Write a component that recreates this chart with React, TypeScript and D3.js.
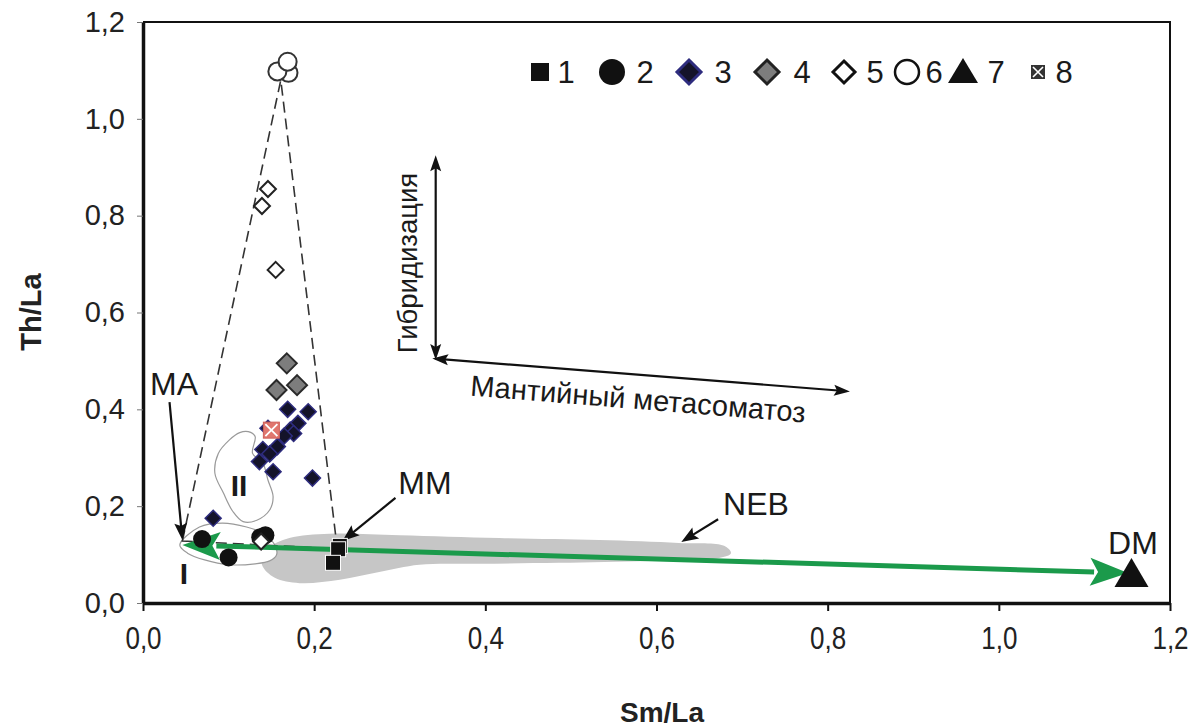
import React, { useEffect, useRef } from 'react'
import * as d3 from 'd3'

// axis ticks
const xTicks = [0, 0.2, 0.4, 0.6, 0.8, 1.0, 1.2]
const yTicks = [0, 0.2, 0.4, 0.6, 0.8, 1.0, 1.2]

// data series [Sm/La, Th/La]
const series1: [number, number][] = [[0.230, 0.118], [0.228, 0.111], [0.222, 0.083]]
const series2: [number, number][] = [[0.069, 0.132], [0.100, 0.094], [0.137, 0.136], [0.143, 0.140]]
const series3: [number, number][] = [
  [0.169, 0.400], [0.193, 0.395], [0.181, 0.371], [0.172, 0.357], [0.176, 0.350],
  [0.165, 0.345], [0.146, 0.361], [0.157, 0.323], [0.140, 0.317], [0.148, 0.308],
  [0.136, 0.292], [0.152, 0.271], [0.198, 0.258], [0.082, 0.175],
]
const series4: [number, number][] = [[0.168, 0.495], [0.156, 0.440], [0.180, 0.450]]
const series5: [number, number][] = [[0.146, 0.855], [0.139, 0.820], [0.155, 0.688], [0.138, 0.127]]
const series6: [number, number][] = [[0.170, 1.095], [0.157, 1.098], [0.169, 1.118]]
const series7: [number, number][] = [[1.155, 0.058]]
const series8: [number, number][] = [[0.150, 0.357]]
const legendLabels = ['1', '2', '3', '4', '5', '6', '7', '8']

// outlined fields
const nebField: [number, number][] = [
  [0.146, 0.114], [0.171, 0.134], [0.218, 0.143], [0.300, 0.140], [0.416, 0.134],
  [0.533, 0.130], [0.626, 0.124], [0.679, 0.118], [0.687, 0.103], [0.673, 0.093],
  [0.591, 0.087], [0.486, 0.083], [0.393, 0.081], [0.323, 0.079], [0.276, 0.064],
  [0.230, 0.048], [0.183, 0.041], [0.154, 0.052], [0.139, 0.079], [0.142, 0.105],
]
const fieldI: [number, number][] = [
  [0.043, 0.120], [0.066, 0.157], [0.093, 0.165], [0.121, 0.157], [0.139, 0.145],
  [0.154, 0.120], [0.156, 0.099], [0.148, 0.087], [0.131, 0.081], [0.101, 0.079],
  [0.072, 0.089], [0.052, 0.103],
]
const fieldII: [number, number][] = [
  [0.123, 0.354], [0.131, 0.344], [0.128, 0.309], [0.140, 0.289], [0.146, 0.254],
  [0.152, 0.220], [0.148, 0.192], [0.133, 0.171], [0.117, 0.168], [0.105, 0.189],
  [0.094, 0.227], [0.084, 0.268], [0.088, 0.309], [0.101, 0.337], [0.113, 0.352],
]
// mixing triangle MA - apex - MM
const mixTriangle: [number, number][] = [[0.046, 0.128], [0.161, 1.080], [0.227, 0.112]]
// green MA <-> DM trend
const trendLine: [number, number][] = [[0.046, 0.120], [1.151, 0.062]]
// pointer arrows [from, to]
const pointers: [number, number][][] = [
  [[0.031, 0.415], [0.046, 0.130]],
  [[0.295, 0.217], [0.233, 0.128]],
  [[0.672, 0.173], [0.629, 0.126]],
]
const hybridArrow: [number, number][] = [[0.342, 0.925], [0.342, 0.502]]
const metasomArrow: [number, number][] = [[0.338, 0.505], [0.826, 0.437]]

const W = 1204
const H = 727
const FONT = 'Liberation Sans, Arial, sans-serif'

const App = () => {
  const ref = useRef<SVGSVGElement>(null)

  useEffect(() => {
    document.body.style.margin = '0'
    const svg = d3.select(ref.current)
    svg.selectAll('*').remove()

    const x = d3.scaleLinear().domain([0, 1.2]).range([143, 1170])
    const y = d3.scaleLinear().domain([0, 1.2]).range([603, 22])
    const fmt = (d: number) => d3.format('.1f')(d).replace('.', ',')

    svg.append('rect').attr('width', W).attr('height', H).attr('fill', '#fff')

    const px = (d: [number, number]) => [x(d[0]), y(d[1])] as [number, number]

    // NEB field
    svg.append('path')
      .attr('d', d3.line().curve(d3.curveCatmullRomClosed)(nebField.map(px)))
      .attr('fill', '#c6c6c6')

    // fields I and II
    svg.append('path')
      .attr('d', d3.line().curve(d3.curveCatmullRomClosed)(fieldI.map(px)))
      .attr('fill', '#fff').attr('stroke', '#9a9a9a').attr('stroke-width', 1.2)
    svg.append('path')
      .attr('d', d3.line().curve(d3.curveCatmullRomClosed)(fieldII.map(px)))
      .attr('fill', 'none').attr('stroke', '#9a9a9a').attr('stroke-width', 1.2)

    // dashed triangle
    svg.append('path')
      .attr('d', d3.line()(mixTriangle.map(px)) + 'Z')
      .attr('fill', 'none').attr('stroke', '#333').attr('stroke-width', 1.6)
      .attr('stroke-dasharray', '11,6')

    const head = (tip: [number, number], from: [number, number], len: number, hw: number, notch = 0) => {
      const dx = tip[0] - from[0], dy = tip[1] - from[1]
      const L = Math.hypot(dx, dy)
      const ux = dx / L, uy = dy / L
      const bx = tip[0] - ux * len, by = tip[1] - uy * len
      const nx = tip[0] - ux * (len - notch), ny = tip[1] - uy * (len - notch)
      return `M${tip[0]},${tip[1]}L${bx - uy * hw},${by + ux * hw}L${nx},${ny}L${bx + uy * hw},${by - ux * hw}Z`
    }
    const arrow = (pts: [number, number][], color: string, w: number, len: number, hw: number, both: boolean, notch = 0) => {
      const a = px(pts[0]), b = px(pts[1])
      const g = svg.append('g')
      const L = Math.hypot(b[0] - a[0], b[1] - a[1])
      const ux = (b[0] - a[0]) / L, uy = (b[1] - a[1]) / L
      const s = both ? [a[0] + ux * (len - 4), a[1] + uy * (len - 4)] : a
      const e = [b[0] - ux * (len - 4), b[1] - uy * (len - 4)]
      g.append('line').attr('x1', s[0]).attr('y1', s[1]).attr('x2', e[0]).attr('y2', e[1])
        .attr('stroke', color).attr('stroke-width', w)
      g.append('path').attr('d', head(b, a, len, hw, notch)).attr('fill', color)
      if (both) g.append('path').attr('d', head(a, b, len, hw, notch)).attr('fill', color)
    }

    // green trend arrow
    arrow(trendLine, '#1b9a4b', 5, 38, 14, true, 8)

    // pointer arrows
    pointers.forEach(p => arrow(p, '#111', 2.2, 17, 6.5, false, 3))
    arrow(hybridArrow, '#111', 2.2, 16, 5.5, true, 3)
    arrow(metasomArrow, '#111', 2.2, 16, 5.5, true, 3)

    const diamond = (r: number) => `M0,${-r}L${r},0L0,${r}L${-r},0Z`
    const tr = (d: [number, number]) => `translate(${x(d[0])},${y(d[1])})`

    // series 1 squares
    svg.append('g').selectAll('rect').data(series1).join('rect')
      .attr('x', d => x(d[0]) - 7.5).attr('y', d => y(d[1]) - 7.5)
      .attr('width', 15).attr('height', 15)
      .attr('fill', '#111').attr('stroke', '#fff').attr('stroke-width', 1)
    // series 2 circles
    svg.append('g').selectAll('circle').data(series2).join('circle')
      .attr('cx', d => x(d[0])).attr('cy', d => y(d[1])).attr('r', 9)
      .attr('fill', '#111')
    // series 5 open diamonds
    svg.append('g').selectAll('path').data(series5).join('path')
      .attr('transform', tr).attr('d', diamond(8))
      .attr('fill', '#fff').attr('stroke', '#222').attr('stroke-width', 2)
    // series 3 dark diamonds
    svg.append('g').selectAll('path').data(series3).join('path')
      .attr('transform', tr).attr('d', diamond(8))
      .attr('fill', '#14132a').attr('stroke', '#2e2c7e').attr('stroke-width', 1.5)
    // series 4 gray diamonds
    svg.append('g').selectAll('path').data(series4).join('path')
      .attr('transform', tr).attr('d', diamond(10))
      .attr('fill', '#7d7d7d').attr('stroke', '#2a2a2a').attr('stroke-width', 2)
    // series 6 open circles
    svg.append('g').selectAll('circle').data(series6).join('circle')
      .attr('cx', d => x(d[0])).attr('cy', d => y(d[1])).attr('r', 9)
      .attr('fill', '#fff').attr('stroke', '#333').attr('stroke-width', 2)
    // series 7 triangle
    svg.append('g').selectAll('path').data(series7).join('path')
      .attr('transform', tr).attr('d', 'M0,-17L17,12L-17,12Z').attr('fill', '#111')
    // series 8 crossed square
    const s8 = svg.append('g').selectAll('g').data(series8).join('g').attr('transform', tr)
    s8.append('rect').attr('x', -8).attr('y', -8).attr('width', 16).attr('height', 16)
      .attr('fill', '#e0766e').attr('stroke', '#d0605a')
    s8.append('path').attr('d', 'M-6,-6L6,6M6,-6L-6,6').attr('stroke', '#fff').attr('stroke-width', 1.8)

    // axes
    const xAxis = svg.append('g').attr('transform', 'translate(0,603)')
      .call(d3.axisBottom(x).tickValues(xTicks).tickSize(8).tickSizeOuter(0).tickPadding(16).tickFormat(fmt as any))
    xAxis.attr('font-size', null).attr('font-family', null)
    xAxis.select('.domain').attr('stroke', '#111').attr('stroke-width', 3.5)
    xAxis.selectAll('.tick line').attr('stroke', '#111').attr('stroke-width', 2)
    // labels in the original are set in a narrow face
    xAxis.selectAll('.tick text').style('font-family', FONT)
      .style('font-size', '31px').attr('fill', '#222').attr('transform', 'scale(0.84,1)')
    const yAxis = svg.append('g').attr('transform', 'translate(143,0)')
      .call(d3.axisLeft(y).tickValues(yTicks).tickSize(6).tickSizeOuter(0).tickPadding(12).tickFormat(fmt as any))
    yAxis.attr('font-size', null).attr('font-family', null)
    yAxis.select('.domain').attr('stroke', '#111').attr('stroke-width', 3.5)
    yAxis.selectAll('.tick line').attr('stroke', '#777').attr('stroke-width', 1)
    yAxis.selectAll('.tick text').style('font-family', FONT).style('font-size', '29px').attr('fill', '#222')
    // frame top/right
    svg.append('path').attr('d', `M143,${y(1.2)}H${x(1.2)}V603`)
      .attr('fill', 'none').attr('stroke', '#111').attr('stroke-width', 2)

    svg.append('text').attr('transform', 'translate(41,312) rotate(-90)')
      .attr('text-anchor', 'middle').attr('font-family', FONT).attr('font-weight', 'bold')
      .attr('font-size', 29).attr('fill', '#222').text('Th/La')
    svg.append('text').attr('x', 662).attr('y', 722)
      .attr('text-anchor', 'middle').attr('font-family', FONT).attr('font-weight', 'bold')
      .attr('font-size', 28).attr('fill', '#222').text('Sm/La')

    // labels
    const label = (t: string, lx: number, ly: number, size: number, weight = 'normal') =>
      svg.append('text').attr('x', lx).attr('y', ly).attr('text-anchor', 'middle')
        .attr('dominant-baseline', 'central').attr('font-family', FONT)
        .attr('font-size', size).attr('font-weight', weight).attr('fill', '#1a1a1a').text(t)
    label('MA', 174, 384, 32)
    label('MM', 425, 483, 32)
    label('NEB', 756, 504, 32)
    label('DM', 1133, 543, 32)
    label('II', 239, 485, 30, 'bold')
    label('I', 184, 573, 30, 'bold')
    svg.append('text').attr('transform', 'translate(407,263) rotate(-90)')
      .attr('text-anchor', 'middle').attr('dominant-baseline', 'central')
      .attr('font-family', FONT).attr('font-size', 27.5).attr('fill', '#1a1a1a').text('Гибридизация')
    svg.append('text').attr('transform', 'translate(638,399) rotate(4.6)')
      .attr('text-anchor', 'middle').attr('dominant-baseline', 'central')
      .attr('font-family', FONT).attr('font-size', 29).attr('fill', '#1a1a1a').text('Мантийный метасоматоз')

    // legend
    const legendSym = [540, 612, 689, 767, 844, 907, 963, 1038]
    const legendTxt = [566, 645, 723, 802, 875, 934, 996, 1064]
    const lg = svg.append('g')
    const ly = 72
    lg.append('rect').attr('x', legendSym[0] - 9).attr('y', ly - 9).attr('width', 18).attr('height', 18).attr('fill', '#111')
    lg.append('circle').attr('cx', legendSym[1]).attr('cy', ly).attr('r', 13).attr('fill', '#111')
    lg.append('path').attr('transform', `translate(${legendSym[2]},${ly})`).attr('d', diamond(12))
      .attr('fill', '#14132a').attr('stroke', '#2e2c7e').attr('stroke-width', 3)
    lg.append('path').attr('transform', `translate(${legendSym[3]},${ly})`).attr('d', diamond(12))
      .attr('fill', '#7d7d7d').attr('stroke', '#222').attr('stroke-width', 3)
    lg.append('path').attr('transform', `translate(${legendSym[4]},${ly})`).attr('d', diamond(11))
      .attr('fill', '#fff').attr('stroke', '#111').attr('stroke-width', 3)
    lg.append('circle').attr('cx', legendSym[5]).attr('cy', ly).attr('r', 12)
      .attr('fill', '#fff').attr('stroke', '#111').attr('stroke-width', 2.5)
    lg.append('path').attr('transform', `translate(${legendSym[6]},${ly})`).attr('d', 'M0,-14L15,11L-15,11Z').attr('fill', '#111')
    const l8 = lg.append('g').attr('transform', `translate(${legendSym[7]},${ly})`)
    l8.append('rect').attr('x', -7).attr('y', -7).attr('width', 14).attr('height', 14).attr('fill', '#333')
    l8.append('path').attr('d', 'M-5,-5L5,5M5,-5L-5,5').attr('stroke', '#fff').attr('stroke-width', 1.6)
    lg.selectAll('text').data(legendLabels).join('text')
      .attr('x', (d, i) => legendTxt[i]).attr('y', ly).attr('text-anchor', 'middle')
      .attr('dominant-baseline', 'central').attr('font-family', FONT).attr('font-size', 31)
      .attr('fill', '#1a1a1a').text(d => d)
  }, [])

  return <svg ref={ref} width={W} height={H} style={{ display: 'block' }} />
}

export default App
